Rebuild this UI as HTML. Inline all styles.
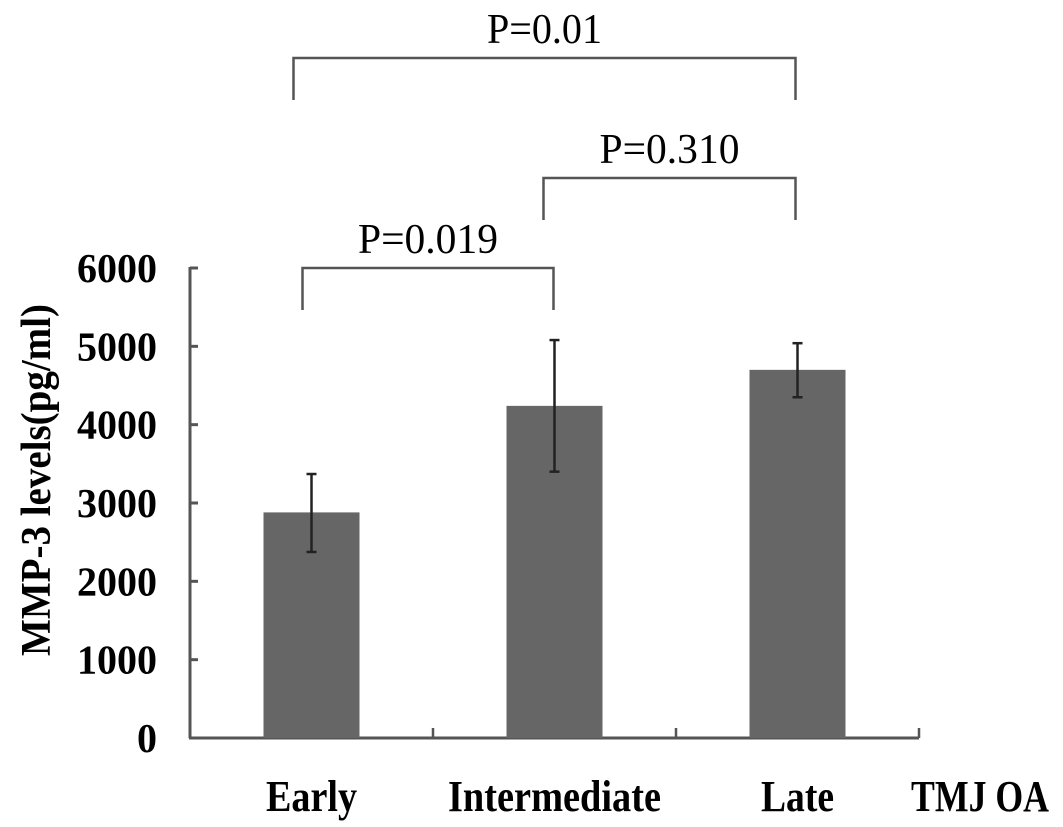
<!DOCTYPE html>
<html><head><meta charset="utf-8"><style>
html,body{margin:0;padding:0;background:#fff;}
svg{display:block;}
.ser{font-family:"Liberation Serif",serif;}
</style></head><body>
<svg id="chart" width="1063" height="827" xmlns="http://www.w3.org/2000/svg">
<g id="axes"></g>
<g id="bars"></g>
<g id="brackets"></g>
<text class="ser" x="0" y="0" font-size="42" font-weight="bold" textLength="352" lengthAdjust="spacingAndGlyphs" transform="translate(50,656) rotate(-90)">MMP-3 levels(pg/ml)</text>
<text class="ser" x="911" y="811" font-size="44" font-weight="bold" textLength="138" lengthAdjust="spacingAndGlyphs">TMJ OA</text>
</svg>
<script>
const categories = ["Early", "Intermediate", "Late"];
const means = [2880, 4240, 4700];
const errLow = [2375, 3400, 4350];
const errHigh = [3370, 5080, 5040];
const yTicks = [0, 1000, 2000, 3000, 4000, 5000, 6000];
const pLabels = ["P=0.019", "P=0.310", "P=0.01"];
const pFrom = [0, 1, 0];
const pTo = [1, 2, 2];

const NS = "http://www.w3.org/2000/svg";
const x0 = 190, x1 = 919, yBase = 738, yTop = 268;
const yScale = v => yBase - (v / 6000) * (yBase - yTop);
const bandW = (x1 - x0) / categories.length;
const xCenter = i => x0 + bandW * (i + 0.5);
const barW = 96;
const catLabelW = [91, 213, 73];

function mk(tag, attrs, parent) {
  const e = document.createElementNS(NS, tag);
  for (const k in attrs) e.setAttribute(k, attrs[k]);
  parent.appendChild(e);
  return e;
}
const axes = document.getElementById("axes");
const bars = document.getElementById("bars");
const br = document.getElementById("brackets");

let el = mk("line", {x1: x0, y1: yTop - 1, x2: x0, y2: yBase, stroke: "#555", "stroke-width": 3}, axes);


el = mk("line", {x1: x0 - 1, y1: yBase, x2: x1, y2: yBase, stroke: "#555", "stroke-width": 3}, axes);



yTicks.forEach(t => {
  const y = yScale(t);
  const tk = mk("line", {x1: x0, y1: y, x2: x0 + 8, y2: y, stroke: "#555", "stroke-width": 3}, axes);
  
  
  const s = String(t);
  const lb = mk("text", {x: 157, y: y + 14, "text-anchor": "end", "font-size": 41, "font-weight": "bold", class: "ser", textLength: s.length * 20, lengthAdjust: "spacingAndGlyphs"}, axes);
  lb.textContent = s;
  
  
});
for (let i = 1; i <= categories.length; i++) {
  const x = x0 + bandW * i;
  const tk = mk("line", {x1: x, y1: yBase, x2: x, y2: yBase - 10, stroke: "#555", "stroke-width": 2.5}, axes);
  
  
}

categories.forEach((c, i) => {
  const cx = xCenter(i);
  const r = mk("rect", {x: cx - barW / 2, y: yScale(means[i]), width: barW, height: yBase - yScale(means[i]), fill: "#666"}, bars);
  
  
  const eg = mk("g", {stroke: "#222", "stroke-width": 2.5}, bars);
  
  
  mk("line", {x1: cx, y1: yScale(errLow[i]), x2: cx, y2: yScale(errHigh[i])}, eg);
  mk("line", {x1: cx - 5, y1: yScale(errLow[i]), x2: cx + 5, y2: yScale(errLow[i])}, eg);
  mk("line", {x1: cx - 5, y1: yScale(errHigh[i]), x2: cx + 5, y2: yScale(errHigh[i])}, eg);
  const lb = mk("text", {x: cx, y: 811, "text-anchor": "middle", "font-size": 44, "font-weight": "bold", class: "ser", textLength: catLabelW[i], lengthAdjust: "spacingAndGlyphs"}, axes);
  lb.textContent = c;
  
  
});

const tierTop = [268, 178, 58];
const tierOffset = [-9, -11, -18];
pLabels.forEach((p, k) => {
  const xa = xCenter(pFrom[k]) + tierOffset[k];
  const xb = xCenter(pTo[k]) + (k === 0 ? -1 : -2);
  const yt = tierTop[k];
  const g = mk("g", {}, br);
  
  
  mk("polyline", {points: `${xa},${yt + 42} ${xa},${yt} ${xb},${yt} ${xb},${yt + 42}`, fill: "none", stroke: "#555", "stroke-width": 2.5}, g);
  const t = mk("text", {x: (xa + xb) / 2, y: yt - 15, "text-anchor": "middle", "font-size": 42, class: "ser", textLength: k === 2 ? 115 : 140, lengthAdjust: "spacingAndGlyphs"}, g);
  t.textContent = p;
  
  
});
</script>
</body></html>
